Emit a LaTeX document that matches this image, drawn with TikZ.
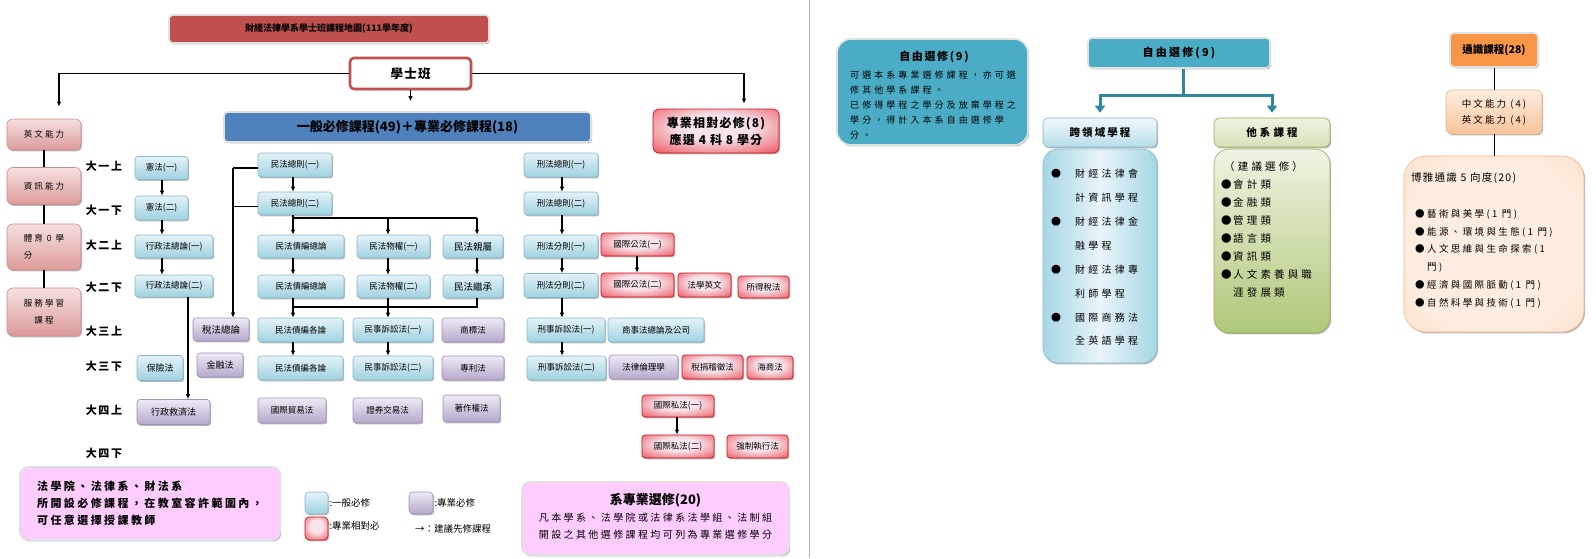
\documentclass[tikz,border=0pt]{standalone}
\usepackage{fontspec}
\setmainfont{Noto Sans CJK TC}
\usetikzlibrary{shadows,arrows.meta}
\newcommand\myfz[2]{\fontsize{#1}{#2}\selectfont}
\newcommand\myls[1]{\addfontfeatures{LetterSpace=#1}}
\newcommand\kb{\makebox[24pt][l]{●}}
\newcommand\ki{\hspace*{24pt}}
\newcommand\tb{\makebox[12pt][l]{●}}
\newcommand\ti{\hspace*{12pt}}
\definecolor{ttlR}{HTML}{C0504D}
\definecolor{genB}{HTML}{4F81BD}
\definecolor{bluT}{HTML}{E4F2F7}
\definecolor{bluB}{HTML}{9FD2E0}
\definecolor{bluD}{HTML}{86B9CB}
\definecolor{purT}{HTML}{EEEAF4}
\definecolor{purB}{HTML}{B6A8CC}
\definecolor{purD}{HTML}{9F90B8}
\definecolor{rdIn}{HTML}{F6E4EA}
\definecolor{rdMid}{HTML}{F07A84}
\definecolor{rdOut}{HTML}{E3101C}
\definecolor{pkT}{HTML}{F6E0E0}
\definecolor{pkB}{HTML}{DB9B9A}
\definecolor{pkD}{HTML}{D08A89}
\definecolor{lgP}{HTML}{FFCCFF}
\definecolor{tealC}{HTML}{4BACC6}
\definecolor{tealD}{HTML}{31859C}
\definecolor{klyE}{HTML}{A5D6E4}
\definecolor{klyM}{HTML}{E9F5F9}
\definecolor{klhT}{HTML}{F0F8FB}
\definecolor{klhB}{HTML}{B7DEE8}
\definecolor{grT}{HTML}{EEF3E2}
\definecolor{grB}{HTML}{AFC878}
\definecolor{grD}{HTML}{8FAE55}
\definecolor{orC}{HTML}{F79646}
\definecolor{orT}{HTML}{FDEDE0}
\definecolor{orB}{HTML}{F9C39A}
\definecolor{orD}{HTML}{F2B78A}
\pgfdeclareradialshading{redsh}{\pgfpoint{0bp}{6bp}}{color(0bp)=(rdIn); color(14bp)=(rdIn); color(32bp)=(rdMid); color(46bp)=(rdOut); color(80bp)=(rdOut)}
\pgfdeclareradialshading{orsh}{\pgfpoint{0bp}{0bp}}{color(0bp)=(orT); color(25bp)=(orT); color(60bp)=(orB); color(72bp)=(orB)}
\tikzset{
 wh/.style 2 args={minimum width=#1pt, minimum height=#2pt},
 sh/.style={drop shadow={shadow xshift=1.2pt, shadow yshift=-1.4pt, opacity=0.28, fill=black}},
 cb/.style={rounded corners=3pt, inner sep=0pt, sh, line width=0.6pt, font=\myfz{8.5}{10}},
 blu/.style={cb, draw=bluD, top color=bluT, bottom color=bluB},
 pur/.style={cb, draw=purD, top color=purT, bottom color=purB},
 rdb/.style={cb, draw=rdOut!90!black, shade, shading=redsh},
 pnk/.style={cb, rounded corners=6pt, draw=pkD, top color=pkT, bottom color=pkB, font=\myfz{8.5}{17}\myls{25}},
 yr/.style={font=\bfseries\myfz{11}{12}\myls{15}},
 arr/.style={-{Latex[length=5pt,width=4.5pt]}, line width=1.1pt},
 ln/.style={line width=1.1pt},
 hb/.style={inner sep=0pt, rounded corners=4pt, line width=1.6pt, draw=black!12, sh},
 lgbox/.style={hb, fill=lgP, rounded corners=8pt},
 tl/.style={draw=tealD, line width=3pt},
 tlarr/.style={tl, -{Triangle[length=7pt,width=10pt]}},
}
\begin{document}
\begin{tikzpicture}[x=1pt,y=-1pt]
\useasboundingbox (0,0) rectangle (1596,558);
\fill[white] (0,0) rectangle (1596,558);
% separator
\draw[black!30, line width=1pt] (809,0) -- (809,558);

% ---------- top ----------
\node[hb, fill=ttlR, wh={320}{28}, font=\bfseries\myfz{9}{10}] (ttl) at (329,29) {財經法律學系學士班課程地圖(111學年度)};
\node[inner sep=0pt, rounded corners=4pt, line width=2.6pt, draw=ttlR, fill=white, sh, wh={121}{31}, font=\bfseries\myfz{12.5}{14}\myls{10}] (bsb) at (410.5,73.5) {學士班};
\node[hb, fill=genB, wh={367}{30}, font=\bfseries\myfz{13}{15}] (gen) at (407.5,127) {一般必修課程(49)＋專業必修課程(18)};
\node[rdb, rounded corners=6pt, wh={126}{44}, align=center, font=\bfseries\myfz{12}{17}\myls{10}] (rel) at (716,131) {專業相對必修(8)\\應選 4 科 8 學分};

% ---------- left column ----------
\node[pnk, wh={74}{31}] (eng) at (44,134.5) {英文能力};
\node[pnk, wh={74}{37}] (info) at (44,186) {資訊能力};
\node[pnk, wh={74}{46}, align=left] (pe) at (44,247) {體育 0 學\\分};
\node[pnk, wh={74}{48}, align=center] (svc) at (44,312) {服務學習\\課程};
\draw[ln] (eng) -- (info);
\draw[ln] (info) -- (pe);
\draw[ln] (pe) -- (svc);

\coordinate (XL) at (59,0);
\coordinate (XR) at (744,0);
\draw[arr, shorten >=12pt] (bsb.west) -| (eng.north -| XL);
\draw[arr, shorten >=5pt] (bsb.east) -| (rel.north -| XR);
\draw[arr, shorten >=10pt] (bsb.south) -- (bsb.south |- gen.north);

% ---------- year labels ----------
\node[yr] (y1) at (104,166) {大一上};
\node[yr] (y2) at (104,210) {大一下};
\node[yr] (y3) at (104,245) {大二上};
\node[yr] (y4) at (104,287) {大二下};
\node[yr] (y5) at (104,331) {大三上};
\node[yr] (y6) at (104,366) {大三下};
\node[yr] (y7) at (104,410) {大四上};
\node[yr] (y8) at (104,453) {大四下};

% ---------- column 1 ----------
\node[blu, wh={53}{23}] (xf1) at (161.5,168) {憲法(一)};
\node[blu, wh={53}{24}] (xf2) at (161.5,208) {憲法(二)};
\node[blu, wh={78}{23}] (xz1) at (174,246.5) {行政法總論(一)};
\node[blu, wh={78}{22}] (xz2) at (174,286) {行政法總論(二)};
\node[pur, wh={56}{23}, font=\myfz{9.5}{11}] (sf) at (221,329.5) {稅法總論};
\node[pur, wh={46}{24}, font=\myfz{9}{11}] (jr) at (220,365) {金融法};
\node[blu, wh={46}{25}, font=\myfz{9}{11}] (bx) at (160,368) {保險法};
\node[pur, wh={73}{25}, font=\myfz{9}{11}] (xj) at (173.5,412) {行政救濟法};

\coordinate (X1) at (162,0);
\coordinate (X2) at (188,0);
\coordinate (XS) at (233,0);
\coordinate (XA) at (293,0);
\coordinate (XB) at (388,0);
\coordinate (XC) at (477,0);
\coordinate (XD) at (562,0);
\coordinate (XE) at (637,0);
\coordinate (XF) at (677,0);

\draw[arr] (xf1.south -| X1) -- (xf2.north -| X1);
\draw[arr] (xf2.south -| X1) -- (xz1.north -| X1);
\draw[arr] (xz1.south -| X1) -- (xz2.north -| X1);
\draw[arr] (xz2.south -| X2) -- (xj.north -| X2);

% ---------- civil law block ----------
\node[blu, wh={74}{24}] (mz1) at (295,165) {民法總則(一)};
\node[blu, wh={74}{23}] (mz2) at (295,203.5) {民法總則(二)};
\node[blu, wh={86}{23}] (mzz) at (301,246.5) {民法債編總論};
\node[blu, wh={73}{23}] (mwq1) at (393.5,246.5) {民法物權(一)};
\node[blu, wh={60}{23}, font=\myfz{9.5}{11}] (mqs) at (473,246.5) {民法親屬};
\node[blu, wh={86}{23}] (mzz2) at (301,286.5) {民法債編總論};
\node[blu, wh={73}{23}] (mwq2) at (393.5,286.5) {民法物權(二)};
\node[blu, wh={60}{23}, font=\myfz{9.5}{11}] (mjc) at (473,286.5) {民法繼承};
\node[blu, wh={85}{24}] (mgl) at (300.5,330) {民法債編各論};
\node[blu, wh={80}{24}] (msu1) at (393,330) {民事訴訟法(一)};
\node[pur, wh={62}{24}] (sbf) at (473,330) {商標法};
\node[blu, wh={85}{24}] (mgl2) at (300.5,368) {民法債編各論};
\node[blu, wh={80}{24}] (msu2) at (393,368) {民事訴訟法(二)};
\node[pur, wh={62}{24}] (zlf) at (473,368) {專利法};
\node[pur, wh={68}{25}] (gjm) at (292,410.5) {國際貿易法};
\node[pur, wh={69}{25}] (zqj) at (387.5,410.5) {證券交易法};
\node[pur, wh={57}{27}] (zzq) at (471.5,408.5) {著作權法};

\draw[ln] ([yshift=-3pt]mz1.west) -- ([yshift=-3pt]mz1.west -| XS);
\draw[ln] ([yshift=-3pt]mz2.west) -- ([yshift=-3pt]mz2.west -| XS);
\draw[arr] ([yshift=-3pt]mz1.west -| XS) -- (sf.north -| XS);

\coordinate (bus1) at (293,218);
\coordinate (bus2) at (293,307);
\draw[arr] (mz1.south -| XA) -- (mz2.north -| XA);
\draw[arr] (mz2.south -| XA) -- (mzz.north -| XA);
\draw[ln] (bus1 -| XA) -- (bus1 -| XC);
\draw[arr] (bus1 -| XB) -- (mwq1.north -| XB);
\draw[arr] (bus1 -| XC) -- (mqs.north -| XC);
\draw[arr] (mzz.south -| XA) -- (mzz2.north -| XA);
\draw[arr] (mwq1.south -| XB) -- (mwq2.north -| XB);
\draw[arr] (mqs.south -| XC) -- (mjc.north -| XC);
\draw[arr] (mzz2.south -| XA) -- (mgl.north -| XA);
\draw[arr] (mwq2.south -| XB) -- (msu1.north -| XB);
\draw[ln] (mjc.south -| XC) -- (bus2 -| XC) -- (bus2 -| XA);
\draw[arr] (mgl.south -| XA) -- (mgl2.north -| XA);
\draw[arr] (msu1.south -| XB) -- (msu2.north -| XB);

% ---------- criminal law block ----------
\node[blu, wh={74}{24}] (xa1) at (561,165) {刑法總則(一)};
\node[blu, wh={74}{23}] (xa2) at (561,203.5) {刑法總則(二)};
\node[blu, wh={74}{23}] (xb1) at (561,246.5) {刑法分則(一)};
\node[blu, wh={74}{24}] (xb2) at (561,285.5) {刑法分則(二)};
\node[blu, wh={78}{24}] (xs1) at (566,330) {刑事訴訟法(一)};
\node[blu, wh={79}{24}] (xs2) at (566.5,368) {刑事訴訟法(二)};
\draw[arr] (xa1.south -| XD) -- (xa2.north -| XD);
\draw[arr] (xa2.south -| XD) -- (xb1.north -| XD);
\draw[arr] (xb1.south -| XD) -- (xb2.north -| XD);
\draw[arr] (xb2.south -| XD) -- (xs1.north -| XD);
\draw[arr] (xs1.south -| XD) -- (xs2.north -| XD);

\node[rdb, wh={73}{23}] (gg1) at (637.5,244.5) {國際公法(一)};
\node[rdb, wh={73}{24}] (gg2) at (637.5,285) {國際公法(二)};
\node[rdb, wh={53}{24}] (fxyw) at (704.5,285) {法學英文};
\node[rdb, wh={51}{22}] (sdsf) at (763.5,287) {所得稅法};
\node[blu, wh={96}{24}] (sszl) at (656,330) {商事法總論及公司};
\node[pur, wh={69}{24}] (flll) at (643.5,367) {法律倫理學};
\node[rdb, wh={61}{24}] (sjjz) at (712.5,367) {稅捐稽徵法};
\node[rdb, wh={46}{23}] (hsf) at (770,367.5) {海商法};
\node[rdb, wh={72}{22}] (gs1) at (678,406) {國際私法(一)};
\node[rdb, wh={72}{23}] (gs2) at (678,446.5) {國際私法(二)};
\node[rdb, wh={61}{23}] (qzzx) at (757.5,446.5) {強制執行法};
\draw[arr] (gg1.south -| XE) -- (gg2.north -| XE);
\draw[arr] (gs1.south -| XF) -- (gs2.north -| XF);

% ---------- legend ----------
\node[lgbox, wh={260}{73}, align=left, font=\bfseries\myfz{11}{17}\myls{22}] (lb) at (150,503.5) {法學院、法律系、財法系\\所開設必修課程，在教室容許範圍內，\\可任意選擇授課教師};
\node[blu, rounded corners=4pt, wh={23}{22}] (lg1) at (316.5,503) {};
\node[anchor=west, inner sep=1pt, font=\myfz{9.5}{11}] (lg1t) at (lg1.east) {:一般必修};
\node[pur, rounded corners=4pt, wh={24}{22}] (lg2) at (421,503) {};
\node[anchor=west, inner sep=1pt, font=\myfz{9.5}{11}] (lg2t) at (lg2.east) {:專業必修};
\node[rdb, rounded corners=4pt, wh={23}{23}] (lg3) at (316.5,528.5) {};
\node[anchor=west, inner sep=1pt, font=\myfz{9.5}{11}] (lg3t) at ([yshift=3pt]lg3.east) {:專業相對必};
\node[anchor=west, inner sep=1pt, font=\myfz{9.5}{11}] (lg4t) at (414,529) {→：建議先修課程};

\node[lgbox, wh={267}{73}] (rb) at (655.5,518.5) {};
\node[font=\bfseries\myfz{13}{15}] (rbt) at (655.5,500) {系專業選修(20)};
\node[align=center, inner sep=0pt, font=\myfz{10}{17}\myls{24}] (rbl) at (655.5,526) {凡本學系、法學院或法律系法學組、法制組\\開設之其他選修課程均可列為專業選修學分};

% ---------- right panel ----------
\node[hb, fill=tealC, rounded corners=14pt, wh={191}{106}] (zy) at (932.5,92) {};
\node[font=\bfseries\myfz{11}{13}\myls{15}] (zyt) at (934,57) {自由選修(9)};
\node[anchor=north west, align=left, inner sep=0pt, font=\myfz{9}{15}\myls{34}] (zyl) at (850,70.5) {可選本系專業選修課程，亦可選\\修其他學系課程。\\已修得學程之學分及放棄學程之\\學分，得計入本系自由選修學\\分。};

\node[hb, fill=tealC, wh={182}{30}, font=\bfseries\myfz{11}{13}\myls{20}] (zyh) at (1179,53) {自由選修(9)};
\node[inner sep=0pt, rounded corners=5pt, line width=0.6pt, draw=bluD, top color=klhT, bottom color=klhB, sh, wh={114}{29}, font=\bfseries\myfz{10.5}{12}\myls{20}] (kly) at (1100,132.5) {跨領域學程};
\node[inner sep=0pt, rounded corners=6pt, line width=0.6pt, draw=grD, top color=grT, bottom color=grT!60!grB, sh, wh={116}{29}, font=\bfseries\myfz{10.5}{12}\myls{30}] (tx) at (1272,132.5) {他系課程};
\coordinate (busR) at (1183,95);
\draw[tl] (zyh.south -| busR) -- (busR);
\draw[tlarr, shorten >=5pt] (busR) -| (kly.north);
\draw[tlarr, shorten >=5pt] (busR) -| (tx.north);

\node[inner sep=0pt, rounded corners=15pt, line width=0.6pt, draw=bluD, left color=klyE, right color=klyE, middle color=klyM, sh, wh={114}{214}] (klyb) at (1100,256) {};
\node[anchor=north west, align=left, inner sep=0pt, font=\myfz{10}{23.9}\myls{32}] (klyt) at (1051,169) {\kb 財經法律會\\\ki 計資訊學程\\\kb 財經法律金\\\ki 融學程\\\kb 財經法律專\\\ki 利師學程\\\kb 國際商務法\\\ki 全英語學程};

\node[inner sep=0pt, rounded corners=15pt, line width=0.6pt, draw=grD, top color=grT, bottom color=grB, sh, wh={116}{184}] (txb) at (1272,241) {};
\node[anchor=north west, align=left, inner sep=0pt, font=\myfz{10.5}{18}\myls{30}] (txt) at (1221,161) {\hspace*{3pt}（建議選修）\\\tb 會計類\\\tb 金融類\\\tb 管理類\\\tb 語言類\\\tb 資訊類\\\tb 人文素養與職\\\ti 涯發展類};

\node[hb, fill=orC, wh={88}{34}, font=\bfseries\myfz{10.5}{12}] (tsh) at (1494,50) {通識課程(28)};
\node[inner sep=0pt, rounded corners=6pt, line width=0.6pt, draw=orD, top color=orT, bottom color=orB, sh, wh={96}{44}, align=center, font=\myfz{9.5}{16}\myls{22}] (zw) at (1494,112) {中文能力 (4)\\英文能力 (4)};
\node[inner sep=0pt, rounded corners=22pt, line width=0.6pt, draw=orD, shade, shading=orsh, sh, wh={180}{176}] (by) at (1494,244) {};
\draw[line width=0.8pt] (tsh) -- (zw);
\draw[line width=0.8pt] (zw) -- (by);
\node[anchor=west, inner sep=0pt, font=\myfz{10.5}{12}\myls{12}] (byt) at (1411,178) {博雅通識 5 向度(20)};
\node[anchor=north west, align=left, inner sep=0pt, font=\myfz{9.5}{17.8}\myls{25}] (byl) at (1415,209) {\tb 藝術與美學(1 門)\\\tb 能源、環境與生態(1 門)\\\tb 人文思維與生命探索(1\\\ti 門)\\\tb 經濟與國際脈動(1 門)\\\tb 自然科學與技術(1 門)};
\end{tikzpicture}
\end{document}
